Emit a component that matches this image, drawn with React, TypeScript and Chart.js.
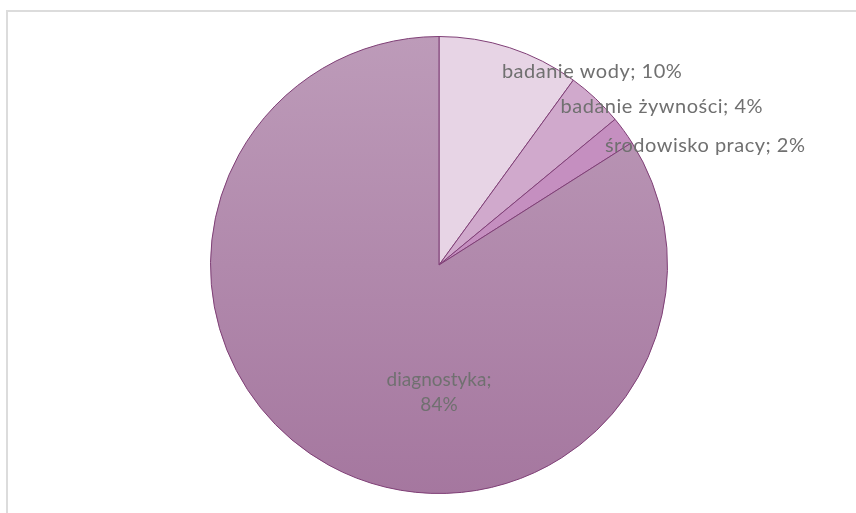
import React, { useEffect, useRef } from "react";
import { Chart, registerables } from "chart.js";
Chart.register(...registerables);

const categories = ["badanie wody", "badanie żywności", "środowisko pracy", "diagnostyka"];
const values = [10, 4, 2, 84];

// label anchor offsets, in units of the pie radius (style, not data)
const labelOffsets: [number, number][] = [
  [0.67, -0.845],
  [0.975, -0.695],
  [1.165, -0.524],
  [0, 0.555],
];

const sliceColors = ["#e7d4e5", "#d0a9cc", "#c58fc0", "gradient"];

export default function App() {
  const ref = useRef<HTMLCanvasElement>(null);
  useEffect(() => {
    const canvas = ref.current!;
    const total = values.reduce((a, b) => a + b, 0);
    const labelPlugin = {
      id: "sliceLabels",
      afterDatasetsDraw(chart: any) {
        const ctx = chart.ctx as any;
        const meta = chart.getDatasetMeta(0);
        ctx.save();
        ctx.fillStyle = "#707070";
        ctx.textAlign = "center";
        ctx.textBaseline = "middle";
        meta.data.forEach((arc: any, i: number) => {
          const p = arc.getProps(["x", "y", "outerRadius"], true);
          const pct = Math.round((values[i] / total) * 100) + "%";
          const lx = p.x + labelOffsets[i][0] * p.outerRadius;
          const ly = p.y + labelOffsets[i][1] * p.outerRadius;
          if (i === 3) {
            ctx.font = "19px Lato";
            ctx.letterSpacing = "0px";
            ctx.fillText(categories[i] + ";", lx, ly - 12);
            ctx.fillText(pct, lx, ly + 13);
          } else {
            ctx.font = "20px Lato";
            ctx.letterSpacing = "0.5px";
            ctx.fillText(`${categories[i]}; ${pct}`, lx, ly);
          }
        });
        ctx.restore();
      },
    };
    const chart = new Chart(canvas, {
      type: "pie",
      data: {
        labels: categories,
        datasets: [
          {
            data: values,
            backgroundColor: (c: any) => {
              const i = c.dataIndex;
              if (sliceColors[i] !== "gradient") return sliceColors[i];
              const area = c.chart.chartArea;
              if (!area) return "#ae85a8";
              const g = c.chart.ctx.createLinearGradient(0, area.top, 0, area.bottom);
              g.addColorStop(0, "#bd9bb9");
              g.addColorStop(1, "#a5779f");
              return g;
            },
            borderColor: "#7f3f76",
            borderWidth: 1,
          },
        ],
      },
      options: {
        responsive: false,
        animation: false,
        layout: { padding: { top: 36, bottom: 19, left: 22, right: 0 } },
        plugins: { legend: { display: false }, tooltip: { enabled: false } },
      },
      plugins: [labelPlugin],
    });
    return () => chart.destroy();
  }, []);
  return (
    <div style={{ position: "fixed", left: 0, top: 0, width: 856, height: 513, background: "#fff", overflow: "hidden" }}>
      <div
        style={{
          position: "absolute",
          left: 6,
          top: 10,
          width: 900,
          height: 600,
          borderTop: "2px solid #dcdcdc",
          borderLeft: "2px solid #dcdcdc",
        }}
      />
      <canvas ref={ref} width={856} height={513} style={{ position: "absolute", left: 0, top: 0, display: "block" }} />
    </div>
  );
}
